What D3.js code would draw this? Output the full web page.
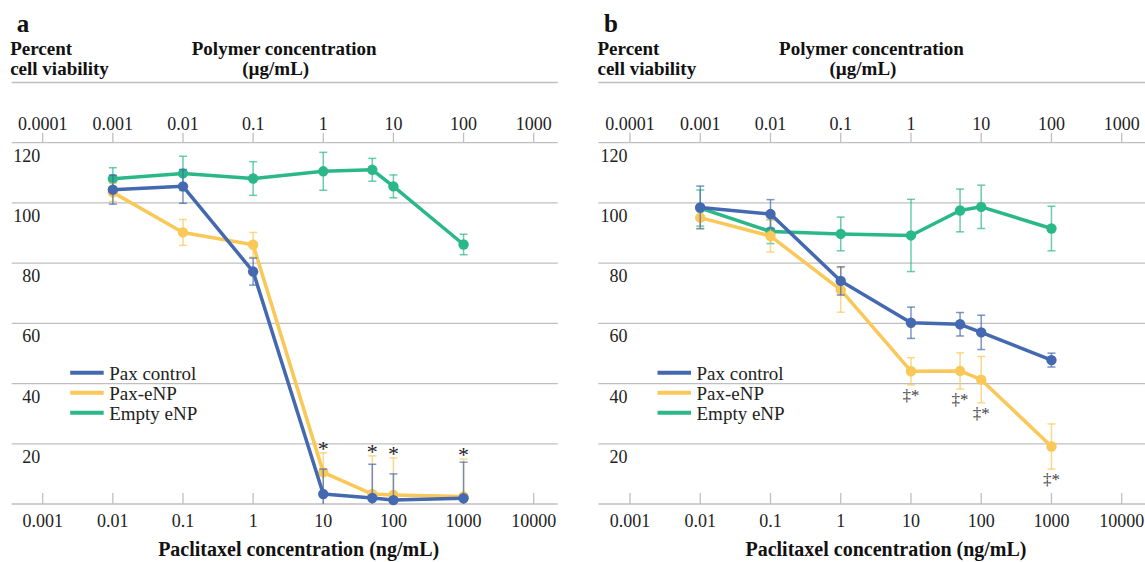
<!DOCTYPE html>
<html>
<head>
<meta charset="utf-8">
<script src="https://cdn.jsdelivr.net/npm/d3@7/dist/d3.min.js"></script>
<style>
  html, body { margin: 0; padding: 0; background: #fff; }
  svg { display: block; font-family: "Liberation Serif", "Times New Roman", serif; }
</style>
</head>
<body>
<svg id="chart" width="1145" height="562"></svg>
<script>
// ---------------- DATA ----------------
const seriesNames = ["Pax control", "Pax-eNP", "Empty eNP"];
const paclitaxelConc = [0.01, 0.1, 1, 10, 50, 100, 1000];       // ng/mL
const bottomTicks = [0.001, 0.01, 0.1, 1, 10, 100, 1000, 10000];
const topTicks = [0.0001, 0.001, 0.01, 0.1, 1, 10, 100, 1000];  // µg/mL
const yTicks = [20, 40, 60, 80, 100, 120];
const yGrid = [0, 20, 40, 60, 80, 100, 120, 140];

// Panel a
const paxControlA    = [104.4, 105.5, 77.2, 3.3, 2.0, 1.3, 1.9];
const paxControlAErr = [4.8, 5.6, 4.5, 8.3, 11.2, 8.7, 12.0];
const paxENPA        = [103.5, 90.2, 86.1, 10.5, 3.3, 3.0, 2.5];
const paxENPAErr     = [3.0, 4.3, 4.1, 6.5, 12.7, 12.3, 12.4];
const emptyENPA      = [108.0, 109.8, 108.1, 110.5, 111.0, 105.5, 86.2];
const emptyENPAErr   = [3.7, 5.7, 5.6, 6.3, 3.8, 3.8, 3.4];
const sigA = ["", "", "", "*", "*", "*", "*"];

// Panel b
const paxControlB    = [98.5, 96.3, 74.1, 60.2, 59.7, 57.0, 47.8];
const paxControlBErr = [7.1, 4.8, 4.7, 5.2, 3.9, 5.7, 2.3];
const paxENPB        = [95.1, 89.0, 71.1, 44.1, 44.2, 41.3, 19.1];
const paxENPBErr     = [3.5, 5.3, 7.4, 4.5, 6.0, 7.7, 7.5];
const emptyENPB      = [98.3, 90.5, 89.7, 89.2, 97.5, 98.7, 91.5];
const emptyENPBErr   = [6.0, 4.0, 5.6, 12.0, 7.1, 7.2, 7.4];
const sigB = ["", "", "", "‡*", "‡*", "‡*", "‡*"];

const colors = ["#4469B0", "#F9C858", "#2BB889"];

// ---------------- DRAWING ----------------
const svg = d3.select("#chart");
const y = d3.scaleLinear().domain([0, 140]).range([504, 82.5]);
const gridColor = "#BFBFBF";

function drawPanel(cfg) {
  const g = svg.append("g");
  const x = d3.scaleLog().domain([0.001, 10000]).range([cfg.x0, cfg.x1]);
  const xTop = d3.scaleLog().domain([0.0001, 1000]).range([cfg.x0, cfg.x1]);

  // gridlines
  g.selectAll("line.grid").data(yGrid).enter().append("line")
    .attr("x1", cfg.gl).attr("x2", cfg.gr)
    .attr("y1", d => y(d)).attr("y2", d => y(d))
    .attr("stroke", gridColor).attr("stroke-width", 1.3);

  // bottom ticks
  g.selectAll("line.bt").data(bottomTicks).enter().append("line")
    .attr("x1", d => x(d)).attr("x2", d => x(d))
    .attr("y1", y(0)).attr("y2", y(0) - 11)
    .attr("stroke", gridColor).attr("stroke-width", 1.3);
  g.selectAll("text.bt").data(bottomTicks).enter().append("text")
    .attr("x", d => x(d)).attr("y", 527)
    .attr("text-anchor", "middle").attr("font-size", 18).attr("fill", "#222")
    .text(d => String(d));

  // top ticks
  g.selectAll("line.tt").data(topTicks).enter().append("line")
    .attr("x1", d => xTop(d)).attr("x2", d => xTop(d))
    .attr("y1", y(120)).attr("y2", y(120) - 10)
    .attr("stroke", gridColor).attr("stroke-width", 1.3);
  g.selectAll("text.tt").data(topTicks).enter().append("text")
    .attr("x", d => xTop(d)).attr("y", 130)
    .attr("text-anchor", "middle").attr("font-size", 18).attr("fill", "#222")
    .text(d => String(d));

  // y tick labels
  g.selectAll("text.yt").data(yTicks).enter().append("text")
    .attr("x", cfg.x0 - 2.5).attr("y", d => y(d) + 19)
    .attr("text-anchor", "end").attr("font-size", 18).attr("fill", "#222")
    .text(d => d);

  // headers
  g.append("text").attr("x", cfg.x0 - 26).attr("y", 32)
    .attr("font-size", 25).attr("font-weight", "bold").attr("fill", "#111").text(cfg.letter);
  g.append("text").attr("x", cfg.x0 - 32.5).attr("y", 55)
    .attr("font-size", 19).attr("font-weight", "bold").attr("fill", "#111").text("Percent");
  g.append("text").attr("x", cfg.x0 - 32.5).attr("y", 75)
    .attr("font-size", 19).attr("font-weight", "bold").attr("fill", "#111").text("cell viability");
  g.append("text").attr("x", cfg.x0 + 241.5).attr("y", 55).attr("text-anchor", "middle")
    .attr("font-size", 19).attr("font-weight", "bold").attr("fill", "#111").text("Polymer concentration");
  g.append("text").attr("x", cfg.x0 + 233).attr("y", 75).attr("text-anchor", "middle")
    .attr("font-size", 19).attr("font-weight", "bold").attr("fill", "#111").text("(µg/mL)");
  g.append("text").attr("x", cfg.x0 + 256).attr("y", 556).attr("text-anchor", "middle")
    .attr("font-size", 20).attr("font-weight", "bold").attr("fill", "#111")
    .text("Paclitaxel concentration (ng/mL)");

  const line = d3.line().x(d => x(d.c)).y(d => y(d.v));

  // draw order: Empty eNP, Pax-eNP, Pax control (on top)
  [2, 1, 0].forEach(si => {
    const vals = cfg.values[si], errs = cfg.errors[si];
    const pts = paclitaxelConc.map((c, i) => ({ c, v: vals[i], e: errs[i] }));
    const col = colors[si];
    const sg = g.append("g");
    // error bars
    pts.forEach(p => {
      const top = p.v + p.e;
      let low = p.v - p.e;
      const lowCap = low >= 0;
      if (!lowCap) low = 0;
      const xx = x(p.c);
      sg.append("line").attr("x1", xx).attr("x2", xx).attr("y1", y(top)).attr("y2", y(low))
        .attr("stroke", col).attr("stroke-opacity", 0.7).attr("stroke-width", 1.5);
      sg.append("line").attr("x1", xx - 4).attr("x2", xx + 4).attr("y1", y(top)).attr("y2", y(top))
        .attr("stroke", col).attr("stroke-opacity", 0.7).attr("stroke-width", 1.5);
      if (lowCap) {
        sg.append("line").attr("x1", xx - 4).attr("x2", xx + 4).attr("y1", y(low)).attr("y2", y(low))
          .attr("stroke", col).attr("stroke-opacity", 0.7).attr("stroke-width", 1.5);
      }
    });
    sg.append("path").datum(pts).attr("d", line)
      .attr("fill", "none").attr("stroke", col).attr("stroke-width", 3.5)
      .attr("stroke-linejoin", "round");
    sg.selectAll("circle").data(pts).enter().append("circle")
      .attr("cx", d => x(d.c)).attr("cy", d => y(d.v)).attr("r", 5.2).attr("fill", col);
  });

  // significance marks (Pax-eNP)
  const sv = cfg.values[1], se = cfg.errors[1];
  paclitaxelConc.forEach((c, i) => {
    const s = cfg.sig[i];
    if (!s) return;
    if (cfg.sigAbove) {
      g.append("text").attr("x", x(c)).attr("y", y(sv[i] + se[i]) + 3)
        .attr("text-anchor", "middle").attr("font-size", 22).attr("fill", "#222").text(s);
    } else {
      g.append("text").attr("x", x(c)).attr("y", y(sv[i] - se[i]) + 16)
        .attr("text-anchor", "middle").attr("font-size", 17).attr("fill", "#444").text(s);
    }
  });

  // legend
  seriesNames.forEach((name, i) => {
    const ly = 372.7 + i * 20;
    g.append("line").attr("x1", cfg.x0 + 27.5).attr("x2", cfg.x0 + 61)
      .attr("y1", ly).attr("y2", ly).attr("stroke", colors[i]).attr("stroke-width", 4);
    g.append("text").attr("x", cfg.x0 + 66.5).attr("y", ly + 7)
      .attr("font-size", 19).attr("fill", "#222").text(name);
  });
}

drawPanel({
  letter: "a", x0: 42.7, x1: 533.7, gl: 11.7, gr: 557.7,
  values: [paxControlA, paxENPA, emptyENPA],
  errors: [paxControlAErr, paxENPAErr, emptyENPAErr],
  sig: sigA, sigAbove: true
});
drawPanel({
  letter: "b", x0: 630, x1: 1121.7, gl: 598.3, gr: 1145,
  values: [paxControlB, paxENPB, emptyENPB],
  errors: [paxControlBErr, paxENPBErr, emptyENPBErr],
  sig: sigB, sigAbove: false
});
</script>
</body>
</html>
